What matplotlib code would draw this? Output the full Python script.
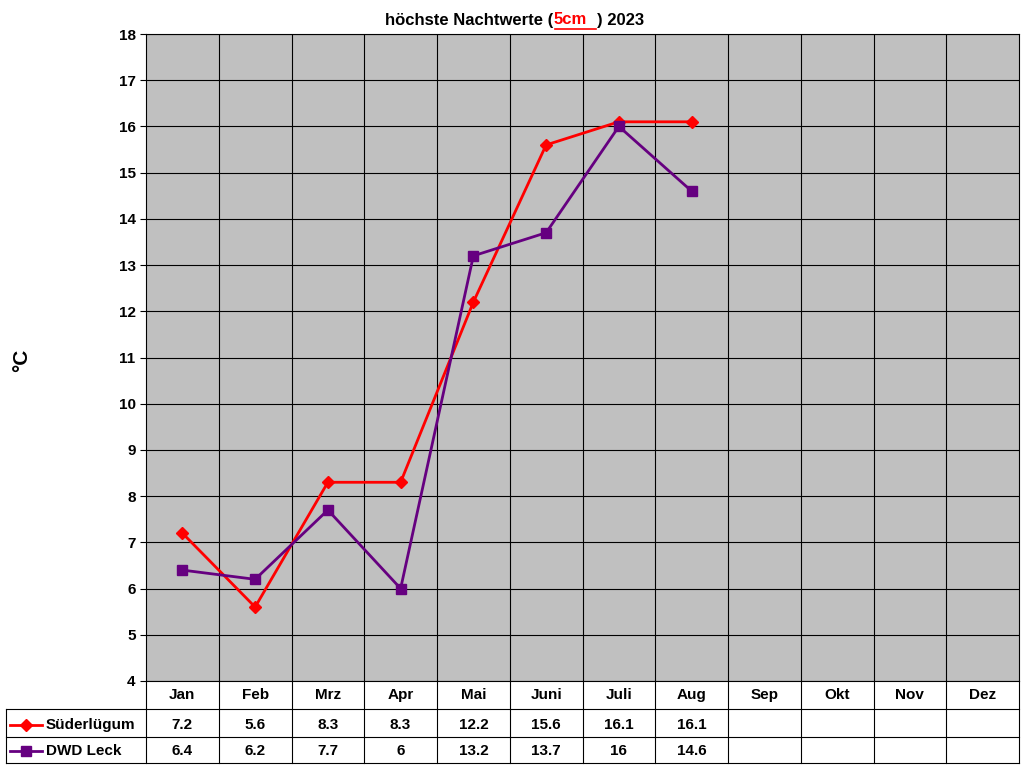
import matplotlib
matplotlib.use("Agg")
import matplotlib.pyplot as plt
from matplotlib.lines import Line2D

months = ["Jan","Feb","Mrz","Apr","Mai","Juni","Juli","Aug","Sep","Okt","Nov","Dez"]
suederluegum = [7.2,5.6,8.3,8.3,12.2,15.6,16.1,16.1]
dwd_leck = [6.4,6.2,7.7,6,13.2,13.7,16,14.6]
series = [("Süderlügum", suederluegum, "#ff0000", "D", 6), ("DWD Leck", dwd_leck, "#660080", "s", 7)]

plt.rcParams['font.family'] = ['Liberation Sans', 'DejaVu Sans']
plt.rcParams['font.weight'] = 'bold'
W, H = 1024, 768
fig = plt.figure(figsize=(W/100, H/100), dpi=100)
L, R, T, B = 146, 1019, 34, 681
ax = fig.add_axes([L/W, 1-B/H, (R-L)/W, (B-T)/H])
ax.set_facecolor("#c0c0c0")
ax.set_xlim(-0.5, 11.5)
ax.set_ylim(4, 18)
ax.set_yticks(range(4, 19))
ax.set_xticks([i+0.5 for i in range(11)])
ax.set_xticklabels([])
ax.tick_params(axis='x', length=0)
ax.tick_params(axis='y', labelsize=11, length=4)
ax.grid(True, color='black', linewidth=0.8)
for s in ax.spines.values():
    s.set_linewidth(0.8)
x = list(range(12))
for name, vals, c, m, ms in series:
    ax.plot(x[:len(vals)], vals, color=c, marker=m, markersize=ms, linewidth=2)

def fy(py):
    return 1 - py/H
def fx(px):
    return px/W

fig.text(fx(22), fy(360), "°C", rotation=90, ha='center', va='center', fontsize=15, fontweight='bold')

# Title
fig.text(fx(553), fy(20), "höchste Nachtwerte (", ha='right', va='center', fontsize=12, fontweight='bold')
fig.text(fx(554), fy(20), "5cm", ha='left', va='center', fontsize=12, fontweight='bold', color='red')
fig.text(fx(597), fy(20), ") 2023", ha='left', va='center', fontsize=12, fontweight='bold')
fig.add_artist(Line2D([fx(555), fx(596)], [fy(29), fy(29)], color='red', linewidth=1.2))

# Data table
lw = 0.8
fig.add_artist(Line2D([fx(L), fx(R)], [fy(709), fy(709)], color='black', lw=lw))
fig.add_artist(Line2D([fx(6), fx(R)], [fy(737), fy(737)], color='black', lw=lw))
fig.add_artist(Line2D([fx(6), fx(R)], [fy(763), fy(763)], color='black', lw=lw))
fig.add_artist(Line2D([fx(6), fx(L)], [fy(709), fy(709)], color='black', lw=lw))
fig.add_artist(Line2D([fx(6), fx(6)], [fy(709), fy(763)], color='black', lw=lw))
cw = (R-L)/12
for i in range(13):
    xp = L + i*cw
    fig.add_artist(Line2D([fx(xp), fx(xp)], [fy(681), fy(763)], color='black', lw=lw))
for i, mth in enumerate(months):
    fig.text(fx(L+(i+0.5)*cw), fy(695), mth, ha='center', va='center', fontsize=11, fontweight='bold')
for r, (name, vals, c, m, ms) in enumerate(series):
    yc = [725, 751][r]
    fig.add_artist(Line2D([fx(10), fx(42)], [fy(yc), fy(yc)], color=c, lw=2))
    fig.add_artist(Line2D([fx(26)], [fy(yc)], color=c, marker=m, markersize=ms, lw=0))
    fig.text(fx(46), fy(yc), name, ha='left', va='center', fontsize=11, fontweight='bold')
    for i, v in enumerate(vals):
        fig.text(fx(L+(i+0.5)*cw), fy(yc), f"{v:g}", ha='center', va='center', fontsize=11, fontweight='bold')

fig.savefig("out.png", dpi=100, facecolor='white')
